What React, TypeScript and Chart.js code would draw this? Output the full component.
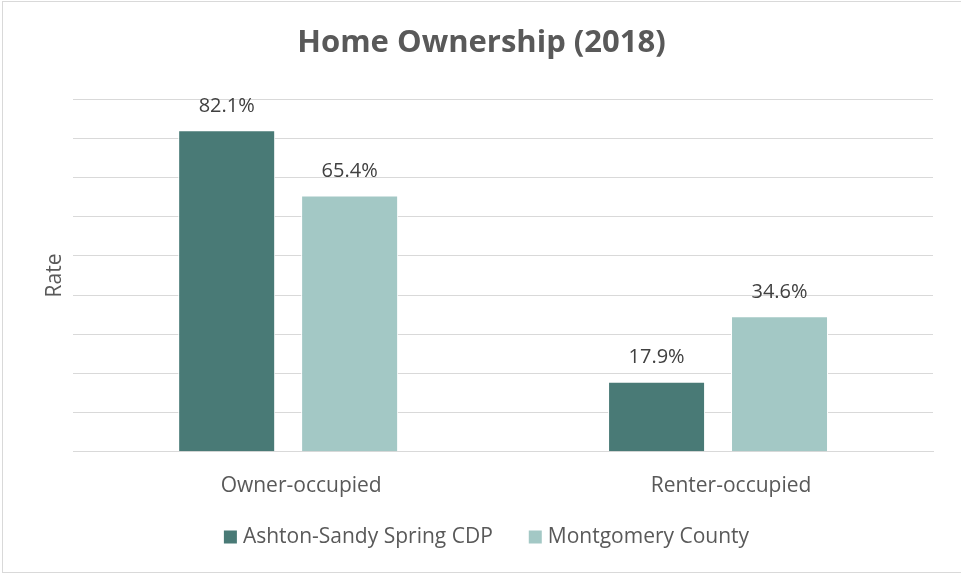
import React, { useEffect, useRef } from "react";
import { Chart, registerables } from "chart.js";

Chart.register(...registerables);

const categories = ["Owner-occupied", "Renter-occupied"];
const seriesNames = ["Ashton-Sandy Spring CDP", "Montgomery County"];
const ashtonValues = [82.1, 17.9];
const montgomeryValues = [65.4, 34.6];
const seriesColors = ["#497a76", "#a3c8c5"];
const yMax = 90;
const yStep = 10;

const FONT = "'Open Sans', 'Liberation Sans', sans-serif";
const TEXT_SIZE = 21;

const valueLabels = {
  id: "valueLabels",
  afterDatasetsDraw(chart: any) {
    const ctx = chart.ctx;
    ctx.save();
    ctx.font = `20px ${FONT}`;
    ctx.fillStyle = "#404040";
    ctx.textAlign = "center";
    ctx.textBaseline = "middle";
    chart.data.datasets.forEach((ds: any, di: number) => {
      const meta = chart.getDatasetMeta(di);
      meta.data.forEach((bar: any, i: number) => {
        ctx.fillText(ds.data[i].toFixed(1) + "%", bar.x, bar.y - 24);
      });
    });
    ctx.restore();
  },
};

const customLegend = {
  id: "customLegend",
  afterDraw(chart: any) {
    const ctx = chart.ctx;
    ctx.save();
    ctx.font = `${TEXT_SIZE}px ${FONT}`;
    ctx.textBaseline = "middle";
    ctx.textAlign = "left";
    const box = 13;
    const gap = 6;
    const spacing = 36;
    const items = chart.data.datasets.map((ds: any) => ({
      text: ds.label,
      color: ds.backgroundColor,
      w: ctx.measureText(ds.label).width,
    }));
    let total = 0;
    items.forEach((it: any, i: number) => {
      total += box + gap + it.w + (i < items.length - 1 ? spacing : 0);
    });
    const cy = 537;
    let x = 486.5 - total / 2;
    items.forEach((it: any) => {
      ctx.fillStyle = it.color;
      ctx.fillRect(x, cy - box / 2, box, box);
      x += box + gap;
      ctx.fillStyle = "#595959";
      ctx.fillText(it.text, x, cy);
      x += it.w + spacing;
    });
    ctx.restore();
  },
};

export default function App() {
  const ref = useRef<HTMLCanvasElement | null>(null);
  useEffect(() => {
    document.body.style.margin = "0";
    const chart = new Chart(ref.current!, {
      type: "bar",
      data: {
        labels: categories,
        datasets: [
          {
            label: seriesNames[0],
            data: ashtonValues,
            backgroundColor: seriesColors[0],
            borderColor: "#ffffff",
            borderWidth: 1,
            categoryPercentage: 0.572,
            barPercentage: 0.789,
          },
          {
            label: seriesNames[1],
            data: montgomeryValues,
            backgroundColor: seriesColors[1],
            borderColor: "#ffffff",
            borderWidth: 1,
            categoryPercentage: 0.572,
            barPercentage: 0.789,
          },
        ],
      },
      options: {
        responsive: false,
        animation: false,
        layout: { padding: { left: 30, right: 28, top: 0, bottom: 54 } },
        plugins: {
          title: {
            display: true,
            text: "Home Ownership (2018)",
            color: "#595959",
            font: { family: FONT, size: 31, weight: "bold" },
            padding: { top: 25, bottom: 37 },
          },
          legend: { display: false },
          tooltip: { enabled: false },
        },
        scales: {
          x: {
            grid: { display: false, drawTicks: false },
            border: { color: "#d9d9d9", width: 1 },
            ticks: {
              color: "#595959",
              font: { family: FONT, size: TEXT_SIZE },
              padding: 22,
              labelOffset: 13,
            },
          },
          y: {
            min: 0,
            max: yMax,
            ticks: { display: false, stepSize: yStep },
            grid: { color: "#d9d9d9", lineWidth: 1, drawTicks: false },
            border: { display: false },
            title: {
              display: true,
              text: "Rate",
              color: "#595959",
              font: { family: FONT, size: 21 },
              padding: { top: 12, bottom: 6 },
            },
          },
        },
      },
      plugins: [valueLabels, customLegend],
    });
    return () => chart.destroy();
  }, []);
  return (
    <div
      style={{
        position: "absolute",
        left: 0,
        top: 0,
        width: 961,
        height: 575,
        background: "#fff",
      }}
    >
      <div
        style={{
          position: "absolute",
          left: 2,
          top: 1,
          width: 970,
          height: 572,
          border: "1px solid #d9d9d9",
          boxSizing: "border-box",
        }}
      />
      <canvas ref={ref} width={961} height={575} style={{ position: "absolute", left: 0, top: 0 }} />
    </div>
  );
}
